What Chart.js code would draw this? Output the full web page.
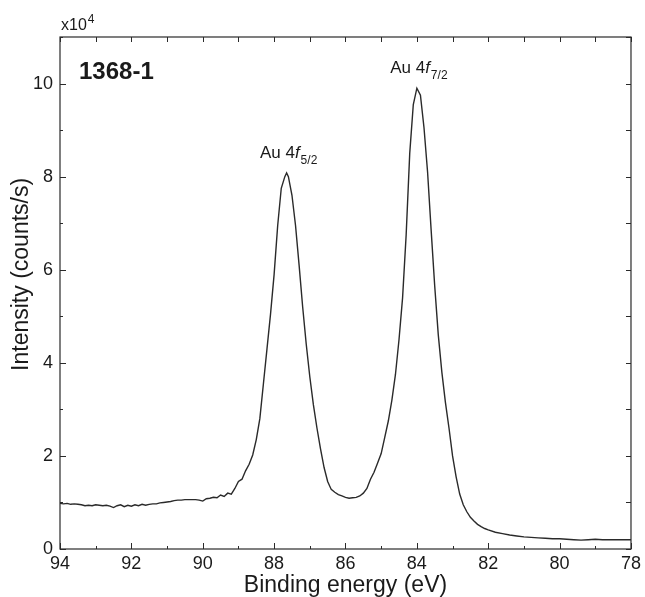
<!DOCTYPE html>
<html>
<head>
<meta charset="utf-8">
<script src="https://cdn.jsdelivr.net/npm/chart.js@4.4.1/dist/chart.umd.min.js"></script>
<style>
  html, body { margin: 0; padding: 0; background: #fff; }
  #wrap { width: 645px; height: 597px; }
</style>
</head>
<body>
<div id="wrap"><canvas id="chartXps"></canvas></div>
<script>
// espectro XPS Au 4f, amostra 1368-1 (intensidade em x10^4 counts/s)
const energia = [
  94.0, 93.9, 93.8, 93.7, 93.6, 93.5, 93.4, 93.3, 93.2, 93.1,
  93.0, 92.9, 92.8, 92.7, 92.6, 92.5, 92.4, 92.3, 92.2, 92.1,
  92.0, 91.9, 91.8, 91.7, 91.6, 91.5, 91.4, 91.3, 91.2, 91.1,
  91.0, 90.9, 90.8, 90.7, 90.6, 90.5, 90.4, 90.3, 90.2, 90.1,
  90.0, 89.9, 89.8, 89.7, 89.6, 89.5, 89.4, 89.3, 89.2, 89.1,
  89.0, 88.9, 88.8, 88.7, 88.6, 88.5, 88.4, 88.3, 88.2, 88.1,
  88.0, 87.9, 87.8, 87.7, 87.65, 87.6, 87.5, 87.4, 87.3, 87.2,
  87.1, 87.0, 86.9, 86.8, 86.7, 86.6, 86.5, 86.4, 86.3, 86.2,
  86.1, 86.0, 85.9, 85.8, 85.7, 85.6, 85.5, 85.4, 85.3, 85.2,
  85.1, 85.0, 84.9, 84.8, 84.7, 84.6, 84.5, 84.4, 84.3, 84.2,
  84.1, 84.0, 83.9, 83.8, 83.7, 83.6, 83.5, 83.4, 83.3, 83.2,
  83.1, 83.0, 82.9, 82.8, 82.7, 82.6, 82.5, 82.4, 82.3, 82.2,
  82.1, 82.0, 81.8, 81.6, 81.4, 81.2, 81.0, 80.8, 80.6, 80.4,
  80.2, 80.0, 79.8, 79.6, 79.4, 79.2, 79.0, 78.8, 78.6, 78.4,
  78.2, 78.0,
];
const intensidade = [
  0.98, 0.97, 0.98, 0.96, 0.97, 0.96, 0.95, 0.93, 0.94, 0.93,
  0.95, 0.94, 0.93, 0.94, 0.92, 0.89, 0.93, 0.95, 0.91, 0.94,
  0.92, 0.95, 0.93, 0.96, 0.94, 0.96, 0.97, 0.97, 0.99, 1.00,
  1.01, 1.02, 1.04, 1.05, 1.05, 1.06, 1.06, 1.06, 1.06, 1.05,
  1.03, 1.08, 1.09, 1.11, 1.10, 1.16, 1.13, 1.20, 1.18, 1.30,
  1.45, 1.50, 1.68, 1.82, 2.02, 2.35, 2.80, 3.55, 4.30, 5.05,
  5.90, 6.95, 7.75, 8.00, 8.08, 8.00, 7.60, 6.95, 6.10, 5.20,
  4.40, 3.70, 3.10, 2.60, 2.15, 1.75, 1.45, 1.28, 1.22, 1.17,
  1.14, 1.11, 1.09, 1.10, 1.11, 1.14, 1.20, 1.30, 1.50, 1.65,
  1.85, 2.05, 2.40, 2.75, 3.20, 3.75, 4.50, 5.40, 6.75, 8.50,
  9.55, 9.90, 9.75, 9.05, 8.10, 6.85, 5.65, 4.60, 3.80, 3.15,
  2.60, 2.00, 1.55, 1.18, 0.95, 0.80, 0.68, 0.60, 0.53, 0.48,
  0.44, 0.41, 0.36, 0.33, 0.30, 0.28, 0.26, 0.25, 0.24, 0.23,
  0.22, 0.22, 0.21, 0.20, 0.19, 0.20, 0.21, 0.20, 0.20, 0.20,
  0.20, 0.20,
];
const xTicks = [94, 92, 90, 88, 86, 84, 82, 80, 78];
const yTicks = [0, 2, 4, 6, 8, 10];
const picos = [
  { e: 87.65, sub: '5/2' },
  { e: 84.0, sub: '7/2' },
];

const FONTE = "'Liberation Sans', Arial, sans-serif";
const COR = '#2a2a2a';

// moldura, ticks para dentro, rótulos dos picos, título do eixo y
const moldura = {
  id: 'moldura',
  afterDraw(chart) {
    const { ctx, chartArea: ca, scales: { x, y } } = chart;
    ctx.save();
    ctx.strokeStyle = COR;
    ctx.lineWidth = 1.2;
    ctx.strokeRect(ca.left, ca.top, ca.right - ca.left, ca.bottom - ca.top);

    ctx.lineWidth = 1;
    ctx.beginPath();
    for (let v = x.min; v <= x.max; v += 1) {
      const px = Math.round(x.getPixelForValue(v)) + 0.5;
      const len = v % 2 === 0 ? 6 : 3;
      ctx.moveTo(px, ca.bottom); ctx.lineTo(px, ca.bottom - len);
      ctx.moveTo(px, ca.top); ctx.lineTo(px, ca.top + 5);
    }
    for (let v = 0; v <= 11; v += 1) {
      const py = Math.round(y.getPixelForValue(v)) + 0.5;
      const len = v % 2 === 0 ? 6 : 3;
      ctx.moveTo(ca.left, py); ctx.lineTo(ca.left + len, py);
      ctx.moveTo(ca.right, py); ctx.lineTo(ca.right - 5, py);
    }
    ctx.stroke();

    ctx.fillStyle = '#1a1a1a';
    ctx.textBaseline = 'alphabetic';
    ctx.textAlign = 'left';

    // multiplicador do eixo
    ctx.font = `16px ${FONTE}`;
    ctx.fillText('x10', ca.left + 1, ca.top - 7);
    const wx = ctx.measureText('x10').width;
    ctx.font = `12px ${FONTE}`;
    ctx.fillText('4', ca.left + 1 + wx + 1, ca.top - 14);

    // nome da amostra
    ctx.font = `bold 24px ${FONTE}`;
    ctx.fillText('1368-1', ca.left + 19, ca.top + 42);

    // Au 4f
    picos.forEach((p) => {
      const i = energia.indexOf(p.e);
      const cx = x.getPixelForValue(p.e);
      const topo = y.getPixelForValue(intensidade[i]);
      ctx.font = `17px ${FONTE}`;
      const w1 = ctx.measureText('Au 4').width;
      ctx.font = `italic 17px ${FONTE}`;
      const w2 = ctx.measureText('f').width;
      ctx.font = `12px ${FONTE}`;
      const w3 = ctx.measureText(p.sub).width;
      const x0 = cx - (w1 + w2 + 1 + w3) / 2 + 2;
      const base = topo - 15;
      ctx.font = `17px ${FONTE}`;
      ctx.fillText('Au 4', x0, base);
      ctx.font = `italic 17px ${FONTE}`;
      ctx.fillText('f', x0 + w1, base);
      ctx.font = `12px ${FONTE}`;
      ctx.fillText(p.sub, x0 + w1 + w2 + 1, base + 6);
    });

    // título do eixo y (no original fica um pouco acima do centro)
    ctx.translate(22, y.getPixelForValue(5.9));
    ctx.rotate(-Math.PI / 2);
    ctx.textAlign = 'center';
    ctx.textBaseline = 'middle';
    ctx.font = `23px ${FONTE}`;
    ctx.fillText('Intensity (counts/s)', 0, 0);
    ctx.restore();
  },
};

new Chart(document.getElementById('chartXps'), {
  type: 'scatter',
  data: {
    datasets: [{
      data: energia.map((e, i) => ({ x: e, y: intensidade[i] })),
      showLine: true,
      borderColor: COR,
      borderWidth: 1.4,
      pointRadius: 0,
      tension: 0,
    }],
  },
  options: {
    responsive: true,
    maintainAspectRatio: false,
    animation: false,
    layout: { padding: { left: 0, right: 9, top: 37, bottom: 0 } },
    plugins: {
      legend: { display: false },
      tooltip: { enabled: false },
    },
    scales: {
      x: {
        type: 'linear',
        reverse: true,
        min: 78,
        max: 94,
        afterBuildTicks: (s) => { s.ticks = xTicks.map((v) => ({ value: v })); },
        afterFit: (s) => { s.height = 48; },
        grid: { display: false, drawTicks: false },
        border: { display: false },
        ticks: { color: '#1a1a1a', padding: 4, maxRotation: 0, autoSkip: false, font: { family: FONTE, size: 18 } },
        title: {
          display: true,
          text: 'Binding energy (eV)',
          color: '#1a1a1a',
          padding: { top: 0, bottom: 0 },
          font: { family: FONTE, size: 23, lineHeight: 1 },
        },
      },
      y: {
        type: 'linear',
        min: 0,
        max: 11,
        afterBuildTicks: (s) => { s.ticks = yTicks.map((v) => ({ value: v })); },
        afterFit: (s) => { s.width = 60; },
        grid: { display: false, drawTicks: false },
        border: { display: false },
        ticks: { color: '#1a1a1a', padding: 7, font: { family: FONTE, size: 18 } },
        title: { display: false },
      },
    },
  },
  plugins: [moldura],
});
</script>
</body>
</html>
